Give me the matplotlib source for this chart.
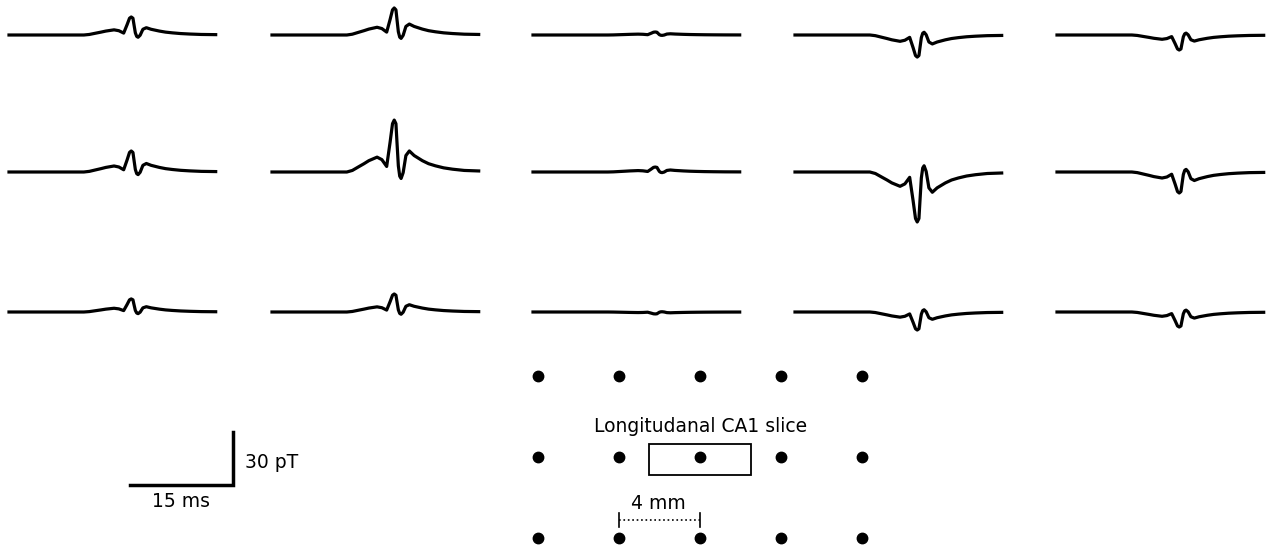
import matplotlib
matplotlib.use("Agg")
import matplotlib.pyplot as plt
from matplotlib.patches import Rectangle

# spike template (time in ms, value / peak)
tmpl_t = [0.0, 10.9, 11.7, 12.7, 13.4, 14.1, 15.3, 16.0, 16.7, 17.2, 17.55,
          17.8, 18.05, 18.2, 18.4, 18.6, 18.8, 19.1, 19.5, 20.0, 20.7, 21.9,
          22.8, 23.8, 25.0, 26.3, 28.0, 30.1]
tmpl_v = [0.0, 0.0, 0.03, 0.107, 0.16, 0.218, 0.286, 0.238, 0.107, 0.575, 0.93,
          1.0, 0.93, 0.575, 0.119, -0.08, -0.125, -0.012, 0.317, 0.405, 0.317, 0.218,
          0.16, 0.119, 0.08, 0.054, 0.03, 0.02]

# peak amplitude of each channel in pT (rows top to bottom)
amp_row0 = [10.2, 15.3, 1.7, -12.5, -8.5]
amp_row1 = [11.9, 29.4, 2.8, -28.3, -11.9]
amp_row2 = [7.4, 10.2, -1.1, -10.2, -8.5]
amplitudes = [amp_row0, amp_row1, amp_row2]

# sensor grid in mm
sensor_x = [0, 4, 8, 12, 16]
sensor_y = [0, 4, 8]
slice_w, slice_h = 5.0, 1.5

W, H = 1269, 550
PX_PER_MS = 206 / 30.0
PX_PER_PT = 53 / 30.0


def px_box(left, top, width, height):
    return [left / W, 1 - (top + height) / H, width / W, height / H]


fig = plt.figure(figsize=(W / 100, H / 100), dpi=100)
fig.patch.set_facecolor("white")

col_x = [9, 272, 533, 795, 1057]
row_base = [35, 172, 312]

for r, row in enumerate(amplitudes):
    for c, a in enumerate(row):
        ax = fig.add_axes(px_box(col_x[c], row_base[r] - 30 * PX_PER_PT,
                                 30 * PX_PER_MS, 60 * PX_PER_PT))
        ax.plot(tmpl_t, [a * v for v in tmpl_v], color="black", lw=2.3,
                solid_joinstyle="round", clip_on=False)
        ax.set_xlim(0, 30)
        ax.set_ylim(-30, 30)
        ax.axis("off")

# scale bar, same scaling as the traces
sb = fig.add_axes(px_box(130, 485 - 60 * PX_PER_PT, 30 * PX_PER_MS, 60 * PX_PER_PT))
sb.plot([0, 15, 15], [-30, -30, 0], color="black", lw=2.5, clip_on=False,
        solid_joinstyle="miter")
sb.text(7.5, -34, "15 ms", ha="center", va="top", fontsize=13.5)
sb.text(16.75, -17.5, "30 pT", ha="left", va="center", fontsize=13.5)
sb.set_xlim(0, 30)
sb.set_ylim(-30, 30)
sb.axis("off")

# sensor layout
mm = 20.25
lay = fig.add_axes(px_box(538 - 1 * mm, 538 - 9 * mm, 18 * mm, 9.5 * mm))
for yy in sensor_y:
    lay.plot(sensor_x, [yy] * len(sensor_x), "o", color="black", ms=7.5,
             ls="none", clip_on=False)
lay.add_patch(Rectangle((8 - slice_w / 2, 3.88 - slice_h / 2), slice_w, slice_h,
                        fill=False, ec="black", lw=1.3))
lay.text(8.05, 5.5, "Longitudanal CA1 slice", ha="center", va="center", fontsize=13.5)
lay.plot([4, 8], [0.9, 0.9], ls=":", color="black", lw=1.2)
lay.plot([4, 4], [0.55, 1.25], color="black", lw=1.2)
lay.plot([8, 8], [0.55, 1.25], color="black", lw=1.2)
lay.text(5.95, 1.25, "4 mm", ha="center", va="bottom", fontsize=13.5)
lay.set_xlim(-1, 17)
lay.set_ylim(-0.5, 9)
lay.axis("off")

plt.savefig("out.png", dpi=100, facecolor="white")
